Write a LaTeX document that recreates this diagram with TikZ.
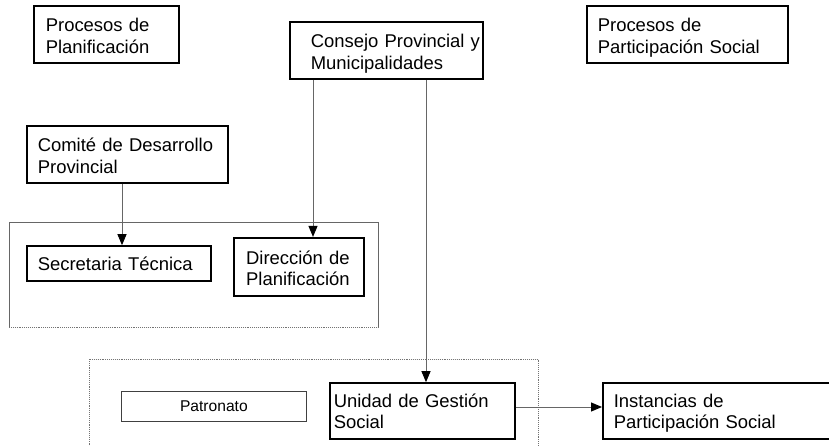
\documentclass[tikz,border=0pt]{standalone}
\usepackage{fontspec}
\setmainfont{Liberation Sans}
\usetikzlibrary{arrows.meta}
\newcommand\padl[1]{\hspace*{#1pt}}
\begin{document}
\begin{tikzpicture}[x=1pt,y=-1pt,
  nbox/.style={draw=black, line width=1.6pt, inner sep=0pt, align=left, anchor=base west,
    font=\fontsize{18.45}{21.6}\selectfont},
  smallbox/.style={draw=black!75, line width=0.8pt, inner sep=0pt, align=center, anchor=base west,
    font=\fontsize{15.6}{18}\selectfont},
  conn/.style={draw=black!60, line width=1pt, -{Triangle[length=11pt,width=9pt,color=black]}},
  frameline/.style={draw=black!60, line width=0.9pt},
  dotline/.style={draw=black!55, line width=0.9pt, densely dotted}
]
\useasboundingbox (0,0) rectangle (829,446);
\clip (0,0) rectangle (829,446);

% group frames
\draw[frameline] (9,327) -- (9,222) -- (378,222) -- (378,327);
\draw[dotline] (9,327) -- (378,327);
\draw[dotline] (89,470) -- (89,359) -- (538,359) -- (538,470);

% boxes
\node[nbox, text width=145pt, text height=25.7pt, text depth=31.3pt] (plan) at (33,31.7)
  {\padl{12}Procesos de\\\padl{12}Planificación};
\node[nbox, text width=193pt, text height=26pt, text depth=31pt] (consejo) at (289,48)
  {\padl{21}Consejo Provincial y\\\padl{21}Municipalidades};
\node[nbox, text width=201pt, text height=25.7pt, text depth=31.3pt] (part) at (586,31.7)
  {\padl{11}Procesos de\\\padl{11}Participación Social};
\node[nbox, text width=201pt, text height=25.7pt, text depth=31.3pt] (comite) at (26,151.7)
  {\padl{11}Comité de Desarrollo\\\padl{11}Provincial};
\node[nbox, text width=184pt, text height=24.7pt, text depth=10.3pt] (secret) at (26,270.7)
  {\padl{11}Secretaria Técnica};
\node[nbox, line width=2.2pt, text width=130pt, text height=26pt, text depth=32pt] (direc) at (233,264)
  {\padl{12}Dirección de\\\padl{12}Planificación};
\node[smallbox, text width=185pt, text height=20.7pt, text depth=9.3pt] (patr) at (121,411.7)
  {Patronato};
\node[nbox, text width=185pt, text height=24pt, text depth=32pt] (unidad) at (329,407)
  {\padl{4}Unidad de Gestión\\\padl{4}Social};
\node[nbox, text width=240pt, text height=24pt, text depth=32pt] (inst) at (602,407)
  {\padl{11}Instancias de\\\padl{11}Participación Social};

% connector columns
\coordinate (xa) at (122,0);
\coordinate (xb) at (313,0);
\coordinate (xc) at (426,0);
\coordinate (ya) at (0,407);

\draw[conn] (comite.south -| xa) -- (secret.north -| xa);
\draw[conn] (consejo.south -| xb) -- (direc.north -| xb);
\draw[conn] (consejo.south -| xc) -- (unidad.north -| xc);
\draw[conn] (unidad.east |- ya) -- (inst.west |- ya);
\end{tikzpicture}
\end{document}
